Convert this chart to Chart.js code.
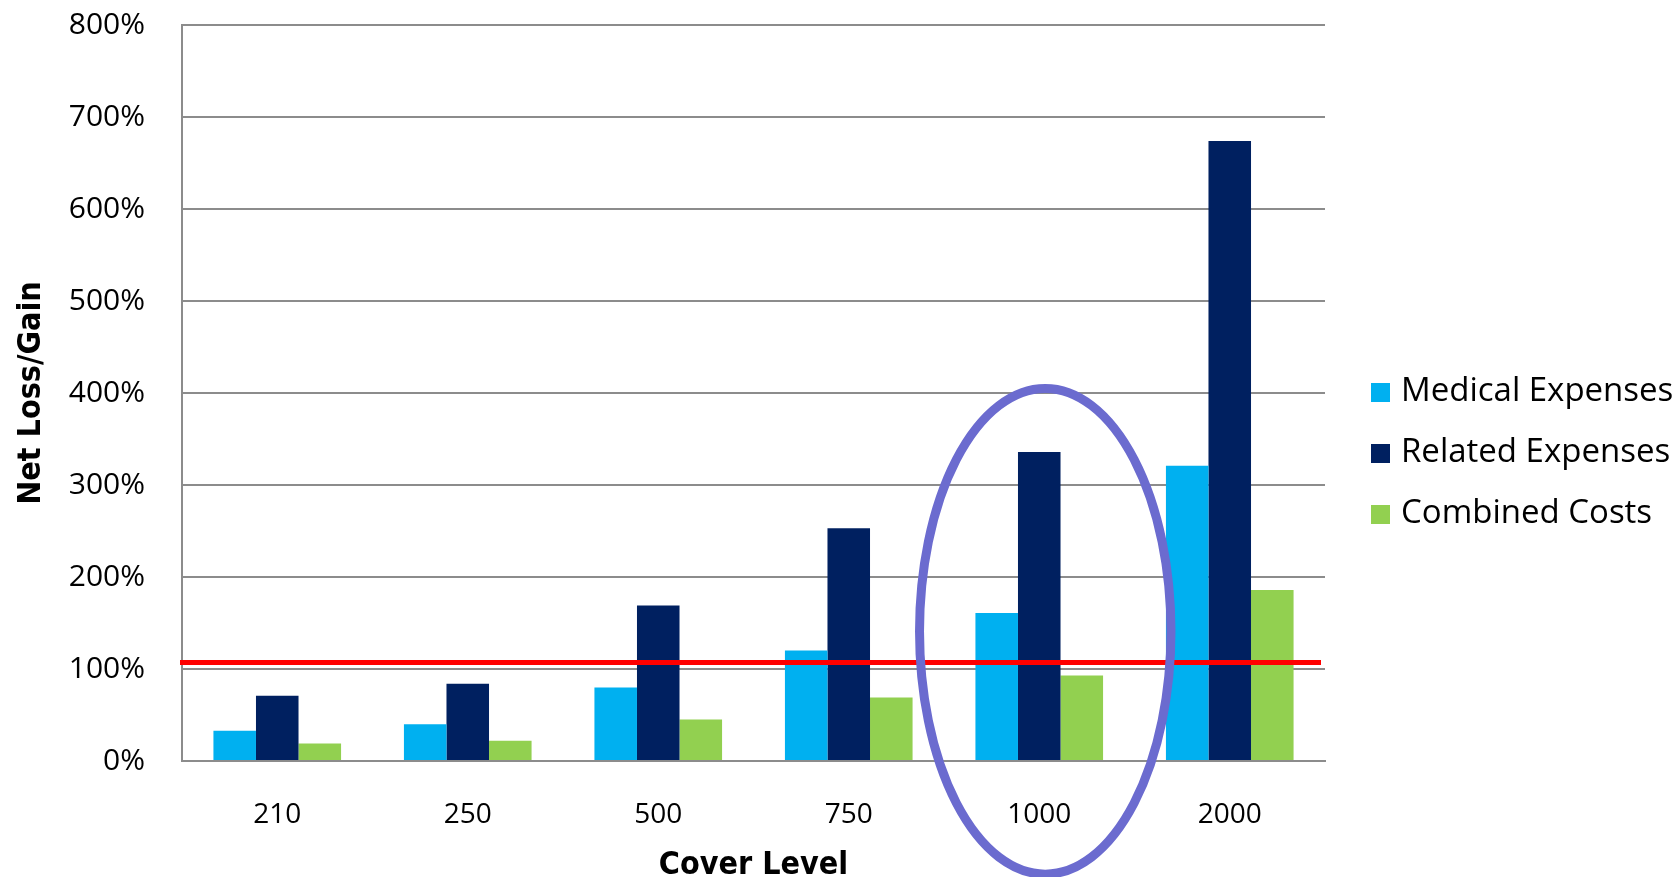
<!DOCTYPE html>
<html>
<head>
<meta charset="utf-8">
<script src="https://cdn.jsdelivr.net/npm/chart.js@4.4.1/dist/chart.umd.min.js"></script>
<style>
  html, body { margin: 0; padding: 0; background: #fff; }
  #wrap { width: 1680px; height: 877px; }
</style>
</head>
<body>
<div id="wrap"><canvas id="grafico" width="1680" height="877"></canvas></div>
<script>
// dados do grafico (em %)
var coverLevels = ['210', '250', '500', '750', '1000', '2000'];
var medicalExpenses = [33, 40, 80, 120, 161, 321];
var relatedExpenses = [71, 84, 169, 253, 336, 674];
var combinedCosts = [19, 22, 45, 69, 93, 186];
var yMin = 0, yMax = 800, yStep = 100;
var breakEven = 107;          // linha vermelha
var destaque = { category: 4, value: 141, ryValue: 264 };  // elipse em volta do 1000

var corTexto = '#000';
var corGrade = '#8c8c8c';
var fonteTexto = "'Open Sans', 'DejaVu Sans', sans-serif";
var fonteTitulo = "'Liberation Sans Narrow', 'DejaVu Sans Condensed', sans-serif";

//linha de break-even, elipse e legenda
var extras = {
  id: 'extras',
  afterDatasetsDraw: function(chart) {
    var ctx = chart.ctx;
    var area = chart.chartArea;
    var x = chart.scales.x, y = chart.scales.y;

    // linha vermelha
    var yl = y.getPixelForValue(breakEven);
    ctx.save();
    ctx.strokeStyle = '#ff0000';
    ctx.lineWidth = 5;
    ctx.beginPath();
    ctx.moveTo(area.left - 2, yl);
    ctx.lineTo(area.right - 4, yl);
    ctx.stroke();

    // elipse
    var larg = (area.right - area.left) / coverLevels.length;
    var cx = x.getPixelForValue(destaque.category) + 6;
    var cy = y.getPixelForValue(destaque.value);
    var ry = y.getPixelForValue(0) - y.getPixelForValue(destaque.ryValue);
    ctx.strokeStyle = '#6b6bcf';
    ctx.lineWidth = 9;
    ctx.beginPath();
    ctx.ellipse(cx, cy, larg * 0.66, ry, 0, 0, Math.PI * 2);
    ctx.stroke();
    ctx.restore();
  },
  afterDraw: function(chart) {
    var ctx = chart.ctx;
    var area = chart.chartArea;
    var lx = area.right + 46;
    var ly = 392;
    ctx.save();
    ctx.font = '33px ' + fonteTexto;
    ctx.textBaseline = 'middle';
    ctx.textAlign = 'left';
    chart.data.datasets.forEach(function(ds, i) {
      var yy = ly + i * 61;
      ctx.fillStyle = ds.backgroundColor;
      ctx.fillRect(lx, yy - 9, 19, 19);
      ctx.fillStyle = corTexto;
      ctx.fillText(ds.label, lx + 30, yy);
    });
    ctx.restore();
  }
};

var config = {
  type: 'bar',
  data: {
    labels: coverLevels,
    datasets: [
      { label: 'Medical Expenses', data: medicalExpenses, backgroundColor: '#00b0f0' },
      { label: 'Related Expenses', data: relatedExpenses, backgroundColor: '#002060' },
      { label: 'Combined Costs', data: combinedCosts, backgroundColor: '#92d050' }
    ]
  },
  options: {
    responsive: false,
    animation: false,
    layout: { padding: { top: 25, right: 355, bottom: 0, left: 0 } },
    datasets: { bar: { categoryPercentage: 0.67, barPercentage: 1.0 } },
    plugins: {
      legend: { display: false },
      tooltip: { enabled: false }
    },
    scales: {
      x: {
        grid: { display: false },
        border: { display: true, color: corGrade, width: 2 },
        ticks: { color: corTexto, font: { family: fonteTexto, size: 28 }, padding: 29 },
        title: {
          display: true, text: 'Cover Level', color: corTexto,
          font: { family: fonteTitulo, size: 32, weight: 'bold', lineHeight: 1 },
          padding: { top: 0, bottom: -5 }
        },
        afterFit: function(scale) { scale.height = 116; scale.paddingTop = 0; }
      },
      y: {
        min: yMin, max: yMax,
        grid: { color: corGrade, lineWidth: 2, drawTicks: false },
        border: { display: true, color: corGrade, width: 2 },
        ticks: {
          stepSize: yStep, color: corTexto, padding: 37,
          font: { family: fonteTexto, size: 30 },
          callback: function(v) { return v + '%'; }
        },
        title: {
          display: true, text: 'Net Loss/Gain', color: corTexto,
          font: { family: fonteTitulo, size: 32, weight: 'bold', lineHeight: 1 },
          padding: { top: 16, bottom: 0 }
        },
        afterFit: function(scale) { scale.width = 182; scale.paddingTop = 0; }
      }
    }
  },
  plugins: [extras]
};

window.onload = function() {
  var ctx = document.getElementById('grafico').getContext('2d');
  window.myBar = new Chart(ctx, config);
};
</script>
</body>
</html>
